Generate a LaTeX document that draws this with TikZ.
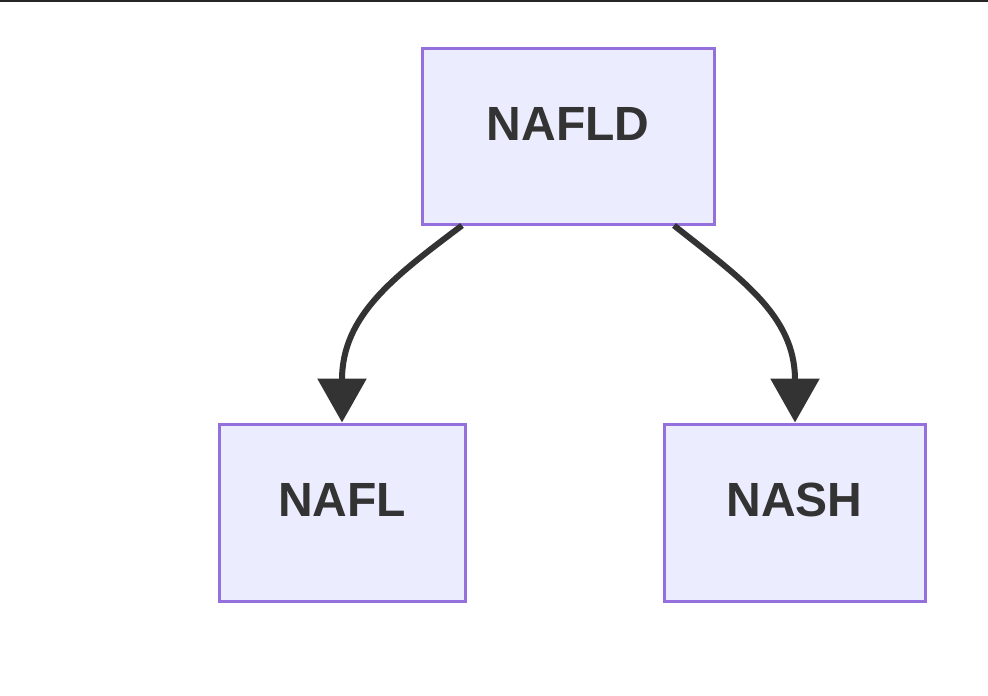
\documentclass[tikz,border=0pt]{standalone}
\usepackage{fontspec}
\setmainfont{Liberation Sans}
\usepackage{xcolor}
\usepackage{tikz}
\usetikzlibrary{arrows.meta}
\definecolor{boxfill}{HTML}{ECECFF}
\definecolor{boxline}{HTML}{9370DB}
\definecolor{ink}{HTML}{333333}
\begin{document}
\begin{tikzpicture}[x=1pt,y=-1pt,
    stage/.style={draw=boxline,fill=boxfill,line width=3pt,text=ink,
      font=\fontsize{48}{56}\selectfont\bfseries,text height=34pt,text depth=26pt,
      inner sep=0pt},
    flow/.style={draw=ink,line width=6pt,-{Triangle[length=44pt,width=48pt]}}]
          \useasboundingbox (0,0) rectangle (988,696);
          \draw[line width=1.5pt,black!85] (0,0.75) -- (988,0.75);
          \node[stage,minimum width=292pt,minimum height=176pt] (nafld) at (568,136) {NAFLD};
          \node[stage,minimum width=246pt,minimum height=177pt] (nafl) at (342,512.5) {NAFL};
          \node[stage,minimum width=261pt,minimum height=177pt] (nash) at (794.5,512.5) {NASH};
          \draw[flow] ([xshift=-106pt]nafld.south) .. controls (395,276) and (342,315) .. (nafl.north);
          \draw[flow] ([xshift=106pt]nafld.south) .. controls (740,278) and (795,315) .. ([xshift=0.5pt]nash.north);
        \end{tikzpicture}
\end{document}
